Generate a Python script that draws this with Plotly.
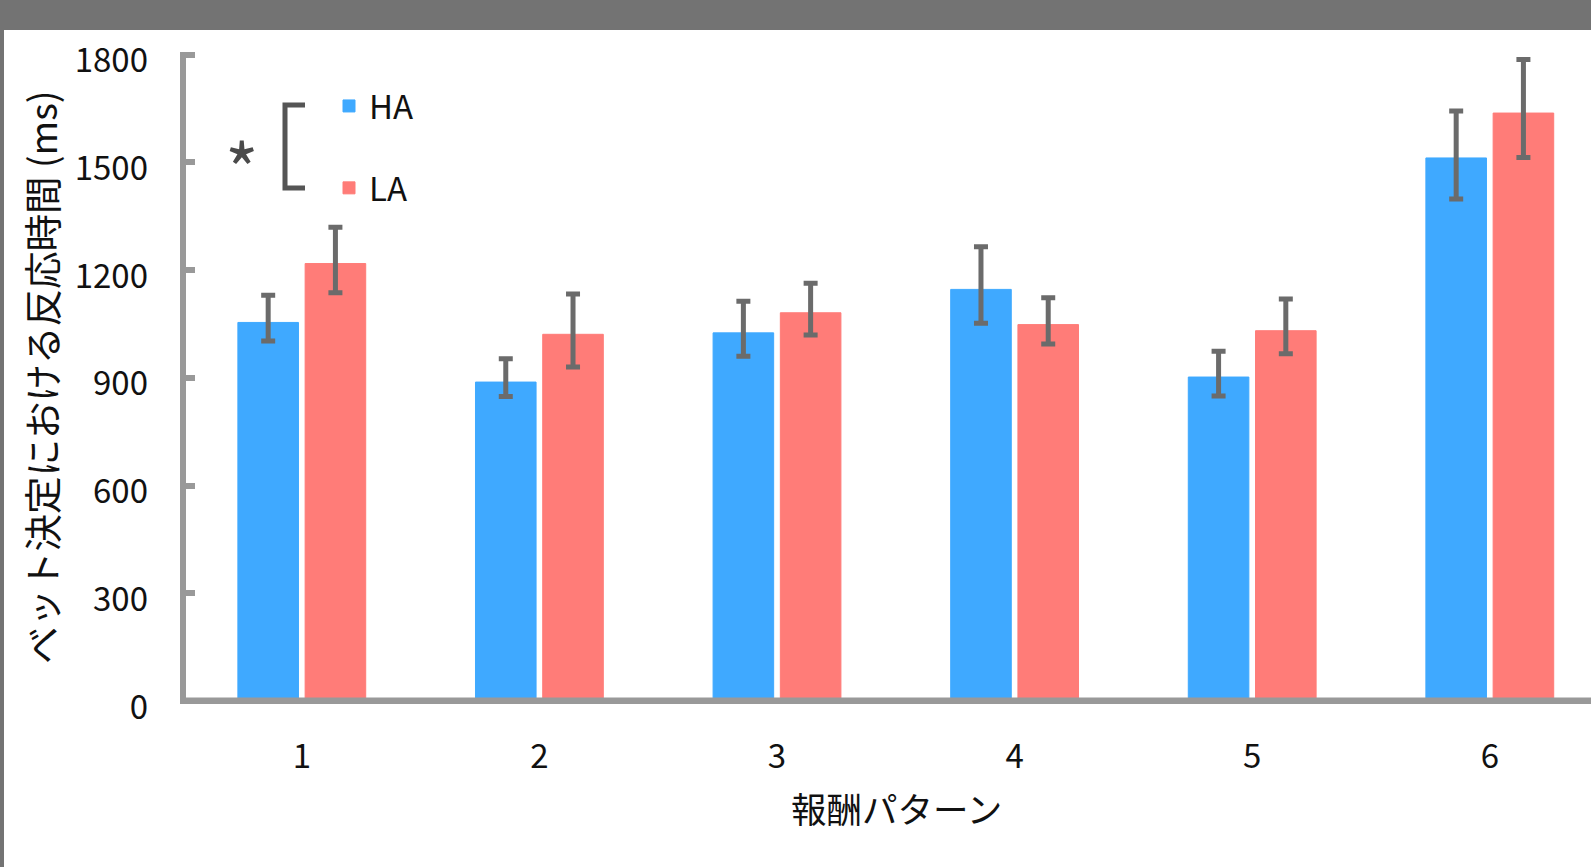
import plotly.graph_objects as go

# ---- data ----
patterns = [1, 2, 3, 4, 5, 6]
tick_labels = ["1", "2", "3", "4", "5", "6"]
ha_mean = [1054, 888, 1025, 1146, 902, 1512]
ha_up = [76, 65, 88, 119, 72, 131]
ha_down = [52, 40, 65, 94, 53, 114]
la_mean = [1218, 1021, 1081, 1048, 1031, 1637]
la_up = [101, 112, 82, 75, 88, 149]
la_down = [81, 91, 62, 54, 64, 124]
y_ticks = [0, 300, 600, 900, 1200, 1500, 1800]

W, H = 1591, 867
L, R, T, B = 183, 0, 52, 166
PW, PH = W - L - R, H - T - B
FONT = "Noto Sans CJK JP"

def px(x):
    return (x - L) / PW

def py(y):
    return (H - B - y) / PH

err_style = dict(type="data", symmetric=False, color="#6b6b6b", thickness=5, width=7)

fig = go.Figure()
fig.add_trace(go.Bar(
    x=patterns, y=ha_mean, name="HA", legendgroup="ha",
    marker=dict(color="#3fa9ff", line=dict(color="#3fa9ff", width=1)),
    width=0.255, offset=-0.269,
    error_y=dict(array=ha_up, arrayminus=ha_down, **err_style),
))
fig.add_trace(go.Bar(
    x=patterns, y=la_mean, name="LA", legendgroup="la",
    marker=dict(color="#ff7c78", line=dict(color="#ff7c78", width=1)),
    width=0.255, offset=0.014,
    error_y=dict(array=la_up, arrayminus=la_down, **err_style),
))

shapes = [
    # top grey band and left grey strip
    dict(type="rect", xref="paper", yref="paper", x0=px(0), x1=px(W), y0=py(30), y1=py(0),
         fillcolor="#737373", line=dict(width=0), layer="above"),
    dict(type="rect", xref="paper", yref="paper", x0=px(0), x1=px(4), y0=py(H), y1=py(0),
         fillcolor="#737373", line=dict(width=0), layer="above"),
    # axis lines
    dict(type="rect", xref="paper", yref="paper", x0=px(180), x1=px(W), y0=py(704), y1=py(697.5),
         fillcolor="#999999", line=dict(width=0), layer="above"),
    dict(type="rect", xref="paper", yref="paper", x0=px(180), x1=px(186), y0=py(704), y1=py(52),
         fillcolor="#999999", line=dict(width=0), layer="above"),
    # significance bracket
    dict(type="path", xref="paper", yref="paper",
         path=f"M {px(305)},{py(105)} L {px(285)},{py(105)} L {px(285)},{py(188)} L {px(305)},{py(188)}",
         line=dict(color="#555555", width=5), layer="above"),
]

annotations = [
    dict(text="ベット決定における反応時間 (ms)", xref="paper", yref="paper",
         x=px(40), y=py(377), textangle=-90, showarrow=False,
         xanchor="center", yanchor="middle", font=dict(size=37.5, color="#111111", family=FONT)),
    dict(text="報酬パターン", xref="paper", yref="paper",
         x=px(896), y=py(808), showarrow=False,
         xanchor="center", yanchor="middle", font=dict(size=35.5, color="#111111", family=FONT)),
    dict(text="*", xref="paper", yref="paper",
         x=px(242), y=py(166), showarrow=False,
         xanchor="center", yanchor="middle", font=dict(size=72, color="#4a4a4a", family=FONT)),
]

fig.update_layout(
    width=W, height=H,
    margin=dict(l=L, r=R, t=T, b=B, pad=0),
    paper_bgcolor="white", plot_bgcolor="white",
    font=dict(family=FONT, size=34, color="#111111"),
    barmode="group",
    showlegend=True,
    legend=dict(x=px(329), y=py(78), xanchor="left", yanchor="top",
                bgcolor="rgba(0,0,0,0)", borderwidth=0, tracegroupgap=36,
                font=dict(size=33, family=FONT, color="#111111")),
    shapes=shapes,
    annotations=annotations,
    xaxis=dict(range=[0.5, 0.5 + PW / 237.6], tickvals=patterns, ticktext=tick_labels,
               showgrid=False, zeroline=False, showline=False, ticks="",
               ticklabelstandoff=33, tickfont=dict(size=33, family=FONT, color="#111111")),
    yaxis=dict(range=[0, 1807], tickvals=y_ticks, ticktext=[str(v) for v in y_ticks],
               showgrid=False, zeroline=False, showline=False,
               ticks="inside", ticklen=12, tickwidth=6, tickcolor="#999999",
               ticklabelstandoff=34, ticklabelshift=6,
               tickfont=dict(size=33, family=FONT, color="#111111")),
)

fig.write_html("out.html")
